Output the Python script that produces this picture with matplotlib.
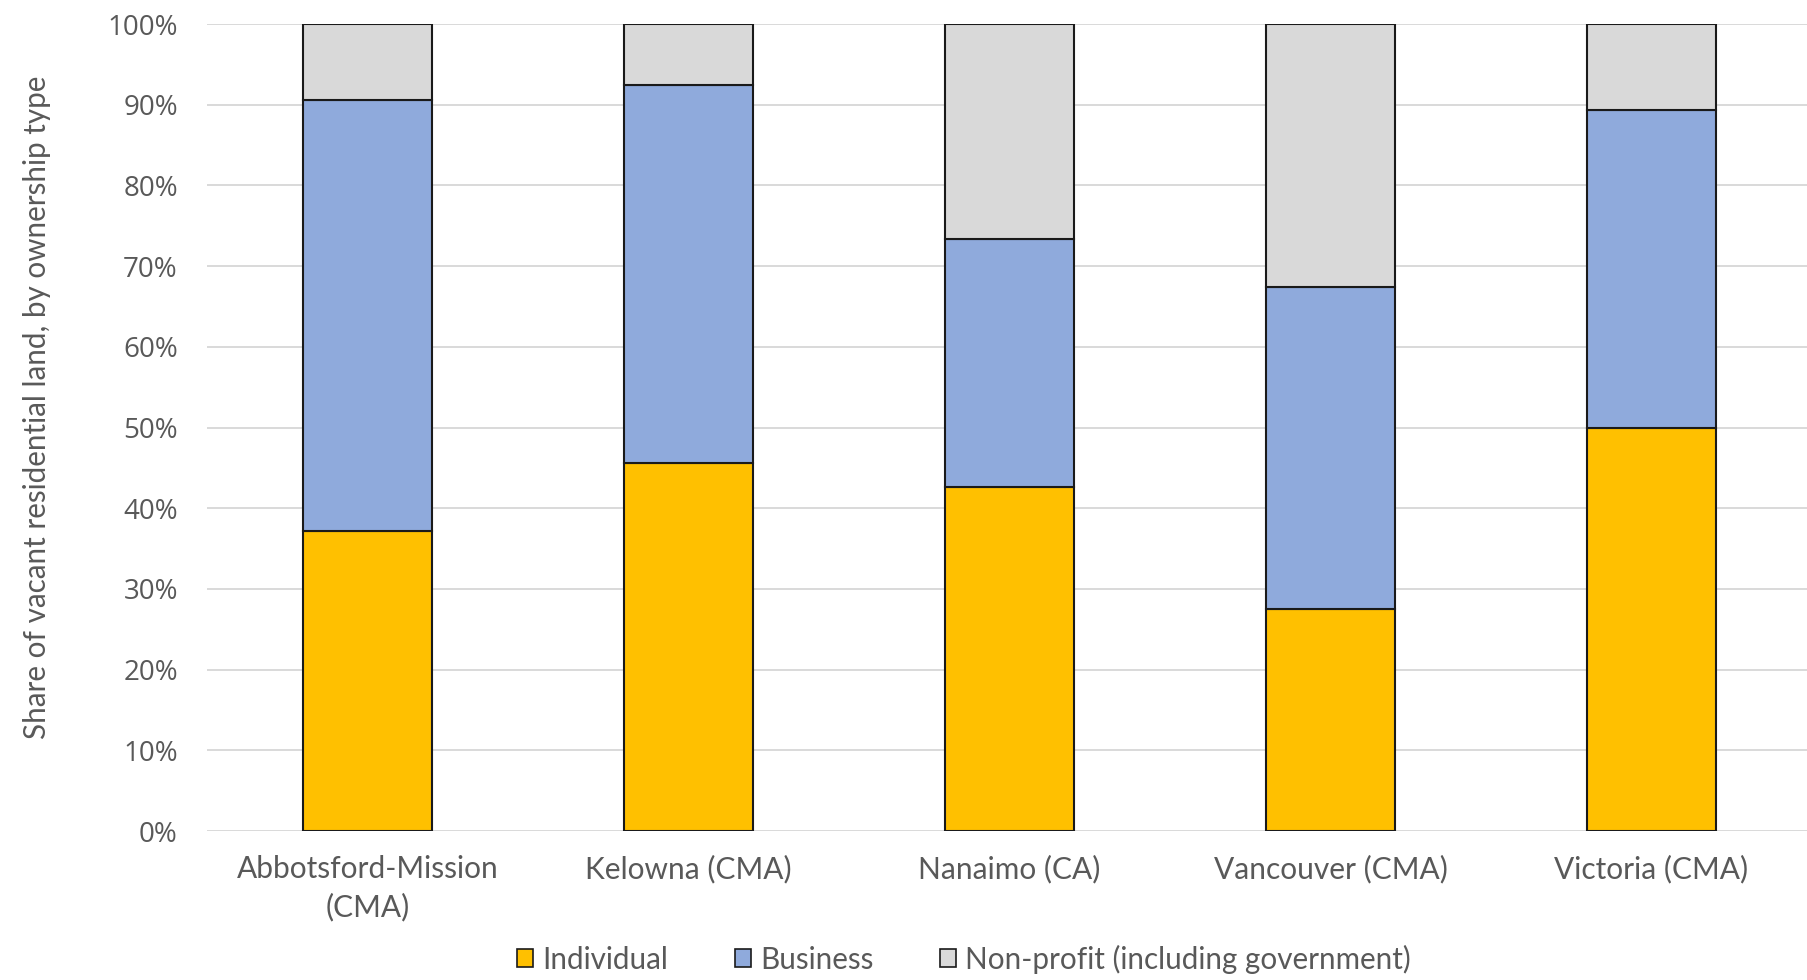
import matplotlib
matplotlib.use("Agg")
import matplotlib.pyplot as plt
from matplotlib.patches import Patch
import numpy as np

# Share of vacant residential land by ownership type (%)
regions = ["Abbotsford-Mission\n(CMA)", "Kelowna (CMA)", "Nanaimo (CA)",
           "Vancouver (CMA)", "Victoria (CMA)"]
individual = [37.2, 45.6, 42.6, 27.5, 50.0]
business = [53.4, 46.8, 30.8, 39.9, 39.4]
non_profit = [9.4, 7.6, 26.6, 32.6, 10.6]

series_names = ["Individual", "Business", "Non-profit (including government)"]
series_colors = ["#FFC000", "#8FAADC", "#D9D9D9"]
y_ticks = [0, 10, 20, 30, 40, 50, 60, 70, 80, 90, 100]

TEXT = "#595959"
FONT = ["Lato", "DejaVu Sans"]
TICK_FONT = ["Open Sans", "DejaVu Sans"]

W, H = 1807, 980
fig = plt.figure(figsize=(W / 100, H / 100), dpi=100)

# axes in pixel terms: left 207, top 24, bottom 831, one category = 321 px
left, top, bottom, step = 207, 24, 831, 321
ax = fig.add_axes([left / W, 1 - bottom / H, (W - left) / W, (bottom - top) / H])

x = np.arange(len(regions))
width = 129 / step
stack = [individual, business, non_profit]
base = np.zeros(len(regions))
for vals, name, col in zip(stack, series_names, series_colors):
    ax.bar(x, vals, width, bottom=base, color=col, edgecolor="#1a1a1a",
           linewidth=1.5, label=name, zorder=3)
    base = base + np.array(vals)

ax.set_xlim(-0.5, -0.5 + (W - left) / step)
ax.set_ylim(0, 100)
ax.set_yticks(y_ticks)
ax.set_yticklabels([f"{t}%" for t in y_ticks], family=TICK_FONT,
                   fontsize=20, color=TEXT)
ax.set_xticks(x)
ax.set_xticklabels(regions, family=FONT, fontsize=21.5, color=TEXT,
                   linespacing=1.45)
ax.tick_params(axis="both", length=0)
ax.tick_params(axis="y", pad=21)
ax.tick_params(axis="x", pad=17)
ax.yaxis.grid(True, color="#D9D9D9", linewidth=1.4, zorder=0)
for s in ax.spines.values():
    s.set_visible(False)

fig.text(37 / W, 1 - 407 / H, "Share of vacant residential land, by ownership type",
         rotation=90, ha="center", va="center", family=FONT, fontsize=21.3,
         color=TEXT)

handles = [Patch(facecolor=c, edgecolor="#1a1a1a", linewidth=1.2)
           for c in series_colors]
fig.legend(handles, series_names, loc="center", ncol=3,
           bbox_to_anchor=(964 / W, 1 - 959 / H), frameon=False,
           prop={"family": FONT, "size": 21.3}, labelcolor=TEXT,
           handlelength=0.55, handleheight=0.55, handletextpad=0.3,
           columnspacing=2.25)

fig.savefig("out.png", dpi=100)
